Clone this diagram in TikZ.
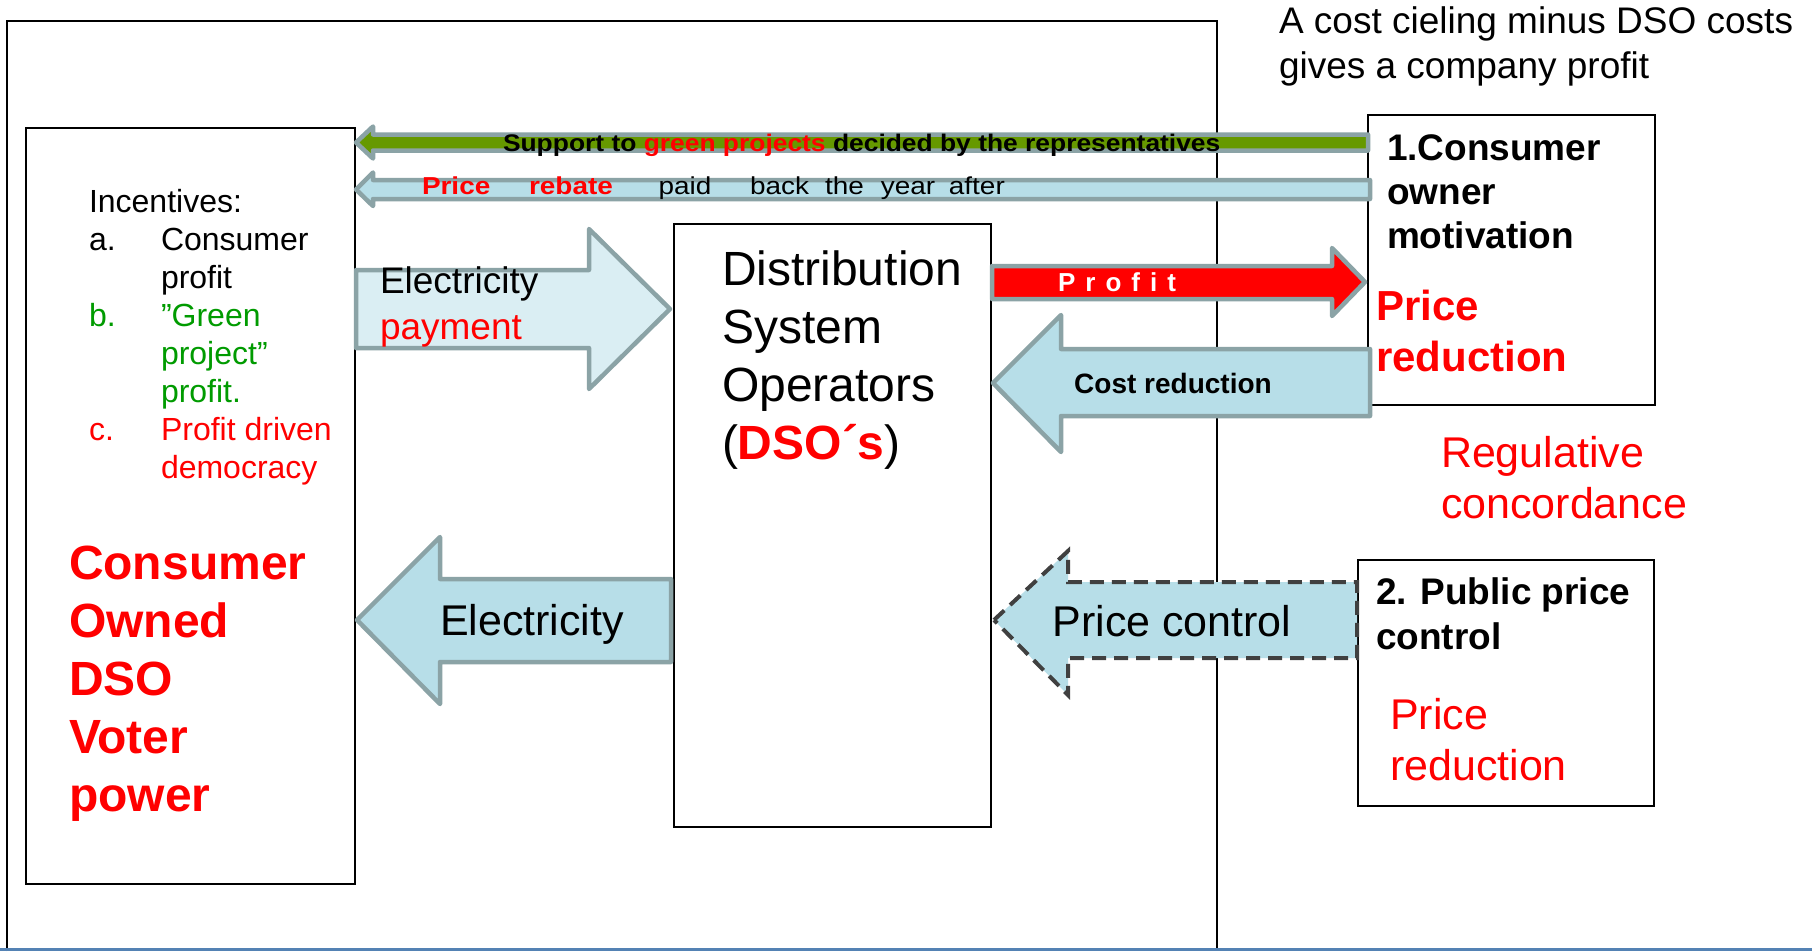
\documentclass[tikz,border=0pt]{standalone}
\usepackage{fontspec}
\setmainfont{Liberation Sans}
\definecolor{agray}{RGB}{139,163,166}
\definecolor{lblue}{RGB}{183,222,232}
\definecolor{llblue}{RGB}{218,238,243}
\definecolor{oliveg}{RGB}{102,153,0}
\definecolor{gtext}{RGB}{0,155,0}
\definecolor{dgray}{RGB}{64,64,64}
\definecolor{bline}{RGB}{84,130,180}
\begin{document}
\begin{tikzpicture}[x=1pt,y=-1pt,
  box/.style={draw=black, line width=1.8pt, inner sep=0pt, anchor=north west},
  blockarrow/.style={draw=agray, line width=4.5pt, line join=round},
  txt/.style={inner sep=0pt, outer sep=0pt, align=left, anchor=north west},
  ctxt/.style={inner sep=0pt, outer sep=0pt},
]
\useasboundingbox (0,0) rectangle (1812,951);
\fill[white] (0,0) rectangle (1812,951);

% outer frame and bottom line
\draw[line width=1.8pt] (7,951) -- (7,21) -- (1217,21) -- (1217,951);
\draw[bline, line width=3pt] (0,949) -- (1812,949);

% boxes
\node[box, minimum width=329pt, minimum height=756pt] (cons) at (25,127) {};
\node[box, minimum width=317pt, minimum height=603pt] (dso) at (673,223) {};
\node[box, minimum width=287pt, minimum height=290pt] (own) at (1367,114) {};
\node[box, minimum width=296pt, minimum height=246pt] (pub) at (1357,559) {};

% top arrows
\draw[blockarrow, fill=oliveg] (356,142.5) -- (373,126.5) -- (373,134.5) -- (1368,134.5) -- (1368,150.5) -- (373,150.5) -- (373,158.5) -- cycle;
\draw[blockarrow, fill=lblue] (356,189.5) -- (373,172.5) -- (373,180) -- (1370,180) -- (1370,199) -- (373,199) -- (373,206) -- cycle;

% electricity payment (right)
\draw[blockarrow, fill=llblue] (356,270) -- (589,270) -- (589,229) -- (670,309) -- (589,389) -- (589,348) -- (356,348) -- cycle;
% electricity (left)
\draw[blockarrow, fill=lblue] (357,620) -- (440,537) -- (440,579) -- (671,579) -- (671,662) -- (440,662) -- (440,704) -- cycle;
% profit
\draw[blockarrow, fill=red] (992,266) -- (1332,266) -- (1332,248) -- (1365,282) -- (1332,316) -- (1332,299) -- (992,299) -- cycle;
% cost reduction
\draw[blockarrow, fill=lblue] (993,383) -- (1061,315) -- (1061,349) -- (1370,349) -- (1370,416) -- (1061,416) -- (1061,452) -- cycle;
% price control (dashed)
\draw[draw=dgray, line width=4pt, dash pattern=on 14pt off 8pt, fill=lblue] (994,620) -- (1068,551) -- (1068,582) -- (1357,582) -- (1357,658) -- (1068,658) -- (1068,695) -- cycle;

% texts
\node[txt, font=\fontsize{37}{45}\selectfont] (note) at (1279,6.6) {A cost cieling minus DSO costs\\gives a company profit};

\node[txt, font=\fontsize{32}{38}\selectfont] (inc) at (89,189.5) {Incentives:\\
\makebox[72pt][l]{a.}Consumer\\
\hspace*{72pt}profit\\
\textcolor{gtext}{\makebox[72pt][l]{b.}”Green}\\
\textcolor{gtext}{\hspace*{72pt}project”}\\
\textcolor{gtext}{\hspace*{72pt}profit.}\\
\textcolor{red}{\makebox[72pt][l]{c.}Profit driven}\\
\textcolor{red}{\hspace*{72pt}democracy}};

\node[txt, font=\fontsize{48}{58}\selectfont\bfseries, text=red] (cod) at (69,546) {Consumer\\Owned\\DSO\\Voter\\power};

\node[txt, font=\fontsize{48}{58}\selectfont] (dsotxt) at (722,251) {Distribution\\System\\Operators\\(\textcolor{red}{\bfseries DSO´s})};

\node[ctxt, anchor=base west, font=\fontsize{24}{30}\selectfont\bfseries] (supp) at (503,151) {\scalebox{1.1}[1]{Support to \textcolor{red}{green projects} decided by the representatives}};
\node[ctxt, anchor=base west, font=\fontsize{24.5}{30}\selectfont] (reb) at (422,194) {\scalebox{1.14}[1]{\textcolor{red}{\bfseries Price}\hspace{34pt}\textcolor{red}{\bfseries rebate}\hspace{40pt}paid\hspace{34pt}back\hspace{14pt}the\hspace{15pt}year\hspace{12pt}after}};

\node[txt, font=\fontsize{37}{46}\selectfont] (ep) at (380,266.6) {Electricity\\\textcolor{red}{payment}};
\node[ctxt, font=\fontsize{43}{50}\selectfont] (el) at (532,624) {Electricity};
\node[ctxt, font=\fontsize{43}{50}\selectfont] (pc) at (1172,621) {Price control};
\node[ctxt, font=\fontsize{28}{34}\selectfont\bfseries] (cr) at (1173,383) {Cost reduction};
\node[ctxt, font=\fontsize{26}{30}\selectfont\bfseries, text=white] (pr) at (1117,282) {P\kern10pt r\kern10pt o\kern10pt f\kern10pt i\kern10pt t};

\node[txt, font=\fontsize{37}{44}\selectfont\bfseries] (b1t) at (1387,134.6) {1.Consumer\\owner\\motivation};
\node[txt, font=\fontsize{42}{51}\selectfont\bfseries, text=red] (b1p) at (1376,289.6) {Price\\reduction};
\node[txt, font=\fontsize{43}{51}\selectfont, text=red] (reg) at (1441,436) {Regulative\\concordance};
\node[txt, font=\fontsize{37}{45}\selectfont\bfseries] (b2t) at (1376,577.6) {2. Public price\\control};
\node[txt, font=\fontsize{43}{51}\selectfont, text=red] (b2p) at (1390,698) {Price\\reduction};
\end{tikzpicture}
\end{document}
